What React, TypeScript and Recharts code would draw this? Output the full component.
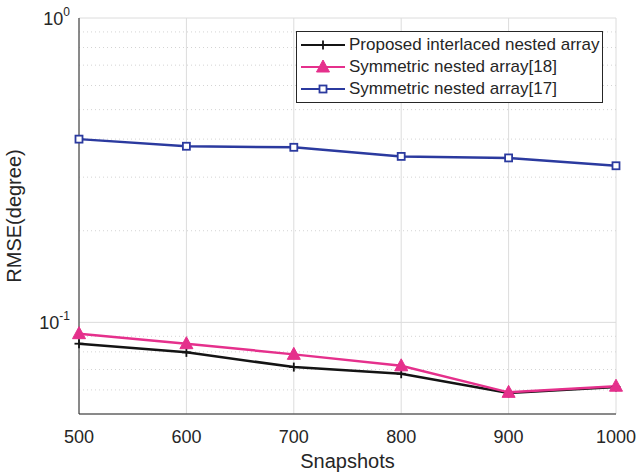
import React from "react";
import {
  LineChart,
  Line,
  XAxis,
  YAxis,
  CartesianGrid,
  ReferenceLine,
  Legend,
} from "recharts";

const snapshots = [500, 600, 700, 800, 900, 1000];
const proposed = [0.0851, 0.0797, 0.0713, 0.0678, 0.0586, 0.0613];
const symmetric18 = [0.0918, 0.0851, 0.0785, 0.072, 0.0589, 0.0617];
const symmetric17 = [0.4, 0.379, 0.376, 0.351, 0.347, 0.327];

const xTicks = [500, 600, 700, 800, 900, 1000];
const yMajorTicks = [0.1, 1];
const yMinorTicks = [0.06, 0.07, 0.08, 0.09, 0.2, 0.3, 0.4, 0.5, 0.6, 0.7, 0.8, 0.9];

const seriesNames = [
  "Proposed interlaced nested array",
  "Symmetric nested array[18]",
  "Symmetric nested array[17]",
];

const BLACK = "#141414";
const MAGENTA = "#e5308c";
const BLUE = "#2b3a9f";
const FONT = "'Liberation Sans', Arial, sans-serif";
const TEXT = "#262626";

const data = snapshots.map((s, i) => ({
  snapshots: s,
  proposed: proposed[i],
  sym18: symmetric18[i],
  sym17: symmetric17[i],
}));

type Shape = "plus" | "triangle" | "square";

function Marker({ cx, cy, shape, color }: { cx: number; cy: number; shape: Shape; color: string }) {
  if (cx == null || cy == null) return null;
  if (shape === "plus") {
    return (
      <g stroke={color} strokeWidth={1.8}>
        <line x1={cx - 4.5} y1={cy} x2={cx + 4.5} y2={cy} />
        <line x1={cx} y1={cy - 4.5} x2={cx} y2={cy + 4.5} />
      </g>
    );
  }
  if (shape === "triangle") {
    return (
      <polygon
        points={`${cx},${cy - 7} ${cx - 6.5},${cy + 5} ${cx + 6.5},${cy + 5}`}
        fill={color}
        stroke={color}
        strokeWidth={1}
      />
    );
  }
  return <rect x={cx - 3.5} y={cy - 3.5} width={7} height={7} fill="#ffffff" stroke={color} strokeWidth={1.8} />;
}

const dotFor = (shape: Shape, color: string) => (props: any) => (
  <Marker key={`${shape}-${props.index}`} cx={props.cx} cy={props.cy} shape={shape} color={color} />
);

function YTick({ x, y, payload }: any) {
  const exp = Math.round(Math.log10(payload.value));
  return (
    <text x={x - 1} y={y + 7} textAnchor="end" fill={TEXT} fontFamily={FONT} fontSize={18}>
      <tspan>10</tspan>
      <tspan dy={-9} fontSize={12}>
        {exp}
      </tspan>
    </text>
  );
}

function LegendBox() {
  const items: { name: string; shape: Shape; color: string }[] = [
    { name: seriesNames[0], shape: "plus", color: BLACK },
    { name: seriesNames[1], shape: "triangle", color: MAGENTA },
    { name: seriesNames[2], shape: "square", color: BLUE },
  ];
  return (
    <div
      style={{
        border: "1px solid #262626",
        background: "#ffffff",
        padding: "2px 0 2px 4px",
        fontFamily: FONT,
        fontSize: 17,
        color: TEXT,
        width: 307,
        boxSizing: "border-box",
      }}
    >
      {items.map((it) => (
        <div key={it.name} style={{ display: "flex", alignItems: "center", height: 22 }}>
          <svg width={44} height={16} style={{ marginRight: 4 }}>
            <line x1={0} y1={8} x2={44} y2={8} stroke={it.color} strokeWidth={2.2} />
            <Marker cx={22} cy={8} shape={it.shape} color={it.color} />
          </svg>
          <span>{it.name}</span>
        </div>
      ))}
    </div>
  );
}

export default function App() {
  return (
    <div style={{ position: "absolute", left: 0, top: 0, width: 638, height: 476, background: "#fff" }}>
      <LineChart width={638} height={476} data={data} margin={{ top: 18, right: 22, bottom: 0, left: 0 }}>
        <CartesianGrid stroke="#dcdcdc" strokeWidth={1} horizontal vertical />
        {yMinorTicks.map((v) => (
          <ReferenceLine key={v} y={v} stroke="#d4d4d4" strokeDasharray="1 3" />
        ))}
        <XAxis
          dataKey="snapshots"
          type="number"
          domain={[500, 1000]}
          ticks={xTicks}
          height={62}
          tick={{ fill: TEXT, fontSize: 18, fontFamily: FONT }}
          tickLine={false}
          axisLine={{ stroke: "#262626" }}
          tickMargin={10}
          label={{ value: "Snapshots", position: "insideBottom", offset: 8, fill: TEXT, fontSize: 20, fontFamily: FONT }}
        />
        <XAxis xAxisId="top" orientation="top" dataKey="snapshots" type="number" domain={[500, 1000]} ticks={xTicks} tick={false} tickLine={false} axisLine={{ stroke: "#262626" }} height={0} />
        <YAxis
          type="number"
          scale="log"
          domain={[0.05, 1]}
          ticks={yMajorTicks}
          allowDataOverflow
          width={79}
          tick={<YTick />}
          tickLine={false}
          axisLine={{ stroke: "#262626" }}
          label={{ value: "RMSE(degree)", angle: -90, position: "insideLeft", offset: 14, style: { textAnchor: "middle" }, fill: TEXT, fontSize: 20, fontFamily: FONT }}
        />
        <YAxis yAxisId="right" orientation="right" type="number" domain={[0, 1]} tick={false} tickLine={false} axisLine={{ stroke: "#262626" }} width={0} />
        <Legend
          layout="vertical"
          align="center"
          verticalAlign="middle"
          wrapperStyle={{ top: 31, left: 296, width: 307 }}
          content={() => <LegendBox />}
        />
        <Line dataKey="proposed" name={seriesNames[0]} stroke={BLACK} strokeWidth={2.5} dot={dotFor("plus", BLACK)} isAnimationActive={false} />
        <Line dataKey="sym18" name={seriesNames[1]} stroke={MAGENTA} strokeWidth={2.5} dot={dotFor("triangle", MAGENTA)} isAnimationActive={false} />
        <Line dataKey="sym17" name={seriesNames[2]} stroke={BLUE} strokeWidth={2.5} dot={dotFor("square", BLUE)} isAnimationActive={false} />
      </LineChart>
    </div>
  );
}
